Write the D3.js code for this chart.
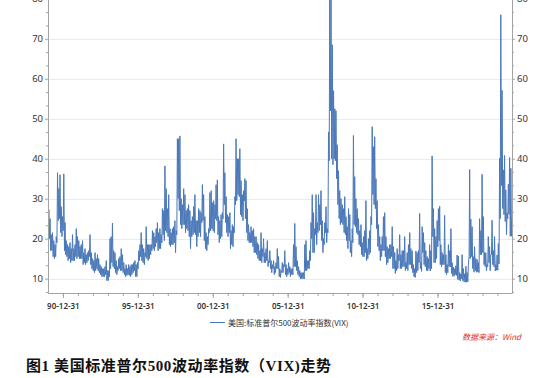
<!DOCTYPE html>
<html>
<head>
<meta charset="utf-8">
<script src="https://cdn.jsdelivr.net/npm/d3@7"></script>
<style>
  body { margin: 0; background: #fff; }
  svg { display: block; }
</style>
</head>
<body>
<div id="chart"></div>
<script>
// VIX, monthly low / high, Jan 1990 .. Dec 2020
const startYear = 1990;

const vixLow = [
  19.2,20.0,17.0,17.0,15.5,15.0,15.5,19.0,24.5,25.0,21.5,20.5, // 1990
  22.0,17.0,16.0,15.5,14.5,15.0,14.0,14.5,14.5,14.5,15.5,15.0, // 1991
  15.5,15.0,15.0,15.0,13.5,14.0,13.5,14.0,14.5,15.5,13.5,12.5, // 1992
  12.0,11.5,12.0,12.5,12.0,11.5,11.0,10.5,10.5,10.5,11.0,9.5,  // 1993
  9.5,10.5,12.5,14.0,13.0,12.5,11.5,11.0,12.0,12.5,12.0,12.0,  // 1994
  11.5,11.0,10.5,10.8,11.0,10.8,10.5,11.0,11.5,12.0,10.5,10.5, // 1995
  12.5,14.5,15.5,14.5,14.0,13.5,15.5,15.0,14.5,15.0,16.0,17.0, // 1996
  17.5,17.0,18.0,19.0,17.0,17.5,17.5,19.0,21.0,19.5,22.0,21.5, // 1997
  20.5,18.5,18.0,18.5,18.5,19.0,16.5,21.0,30.0,27.0,23.5,22.5, // 1998
  23.5,23.5,21.5,22.5,22.0,20.5,17.5,20.5,21.0,21.5,21.0,18.0, // 1999
  20.5,21.5,20.5,24.0,24.5,19.5,17.5,17.0,18.5,21.5,22.0,22.5, // 2000
  22.0,21.5,25.0,24.5,21.0,19.0,20.0,20.5,25.0,28.5,24.0,21.5, // 2001
  20.5,21.5,17.5,18.5,18.0,21.5,28.5,29.5,31.0,30.5,26.0,25.5, // 2002
  24.5,29.5,25.0,21.5,19.5,19.0,19.0,19.0,18.0,16.5,16.5,16.0, // 2003
  15.0,14.5,14.5,14.0,15.5,14.0,14.0,14.5,13.0,14.0,12.5,11.5, // 2004
  12.5,11.0,11.5,12.5,12.5,10.5,10.3,11.5,11.5,13.0,11.0,10.5, // 2005
  11.0,11.5,10.5,11.0,11.0,13.0,13.0,12.0,11.0,10.5,9.9,10.0,  // 2006
  10.0,9.9,12.0,12.0,12.5,12.5,14.5,20.0,16.5,16.5,21.0,18.5,  // 2007
  21.5,22.0,23.5,19.5,16.5,18.5,21.5,19.0,21.5,39.5,52.0,40.0, // 2008
  38.5,40.0,39.5,35.0,28.5,25.0,23.5,24.0,23.5,21.5,21.0,19.5, // 2009
  17.5,19.5,16.5,15.5,19.0,23.5,23.0,21.5,21.0,18.5,18.0,16.0, // 2010
  15.5,15.5,16.5,14.5,15.0,16.0,16.5,23.5,31.0,28.5,27.5,22.5, // 2011
  18.0,17.0,14.5,15.5,17.0,17.0,15.5,13.5,14.0,15.0,15.0,15.5, // 2012
  12.5,12.5,11.3,12.0,12.5,14.5,12.5,12.5,13.0,13.0,12.0,12.5, // 2013
  12.0,13.5,13.5,12.5,11.5,10.5,10.3,11.5,12.0,14.0,12.5,11.8, // 2014
  16.5,13.5,13.0,12.0,12.0,12.5,11.9,12.5,20.5,14.0,14.0,15.0, // 2015
  18.0,19.5,13.5,13.0,13.5,13.5,11.5,11.0,11.5,13.0,12.9,11.3, // 2016
  10.6,10.6,11.0,10.8,9.8,9.7,9.4,10.0,9.5,9.2,9.1,9.1,        // 2017
  9.2,15.5,15.0,15.5,12.5,11.6,12.0,11.6,11.7,11.5,16.0,16.0,  // 2018
  16.5,13.5,13.0,12.0,13.0,14.0,12.0,16.0,13.5,13.0,11.9,12.1, // 2019
  12.1,13.7,25.0,33.3,27.5,26.0,24.3,21.0,25.0,26.1,20.6,20.6  // 2020
];

const vixHigh = [
  27.3,25.0,21.0,21.5,19.5,18.5,20.5,36.5,32.5,36.0,28.0,25.5, // 1990
  36.2,24.0,19.5,18.5,18.0,19.0,17.5,21.0,17.5,18.5,22.5,20.5, // 1991
  19.5,18.0,18.5,19.5,16.5,17.5,16.0,16.5,17.0,21.0,16.5,15.0, // 1992
  14.5,16.5,15.0,16.0,15.0,13.5,13.0,12.5,12.5,13.0,14.5,12.0, // 1993
  12.0,20.0,20.5,23.9,17.0,16.5,14.5,13.0,15.0,15.5,17.5,16.0, // 1994
  14.0,12.5,13.5,12.5,13.5,13.0,13.5,13.5,14.0,14.5,13.5,14.0, // 1995
  17.0,18.5,21.5,18.5,17.5,16.5,23.0,18.5,18.5,18.5,18.5,22.0, // 1996
  21.5,20.5,22.5,24.0,21.5,22.5,21.0,27.5,27.0,38.2,32.5,27.5, // 1997
  31.0,22.5,21.5,22.5,23.0,24.5,22.0,45.0,45.0,45.7,30.0,28.5, // 1998
  32.5,31.0,27.0,27.5,28.5,27.0,24.5,25.5,28.0,31.0,24.5,24.5, // 1999
  27.5,27.0,26.5,33.5,31.0,25.5,21.5,20.5,22.5,31.5,32.0,29.0, // 2000
  29.5,28.5,33.5,34.7,25.5,24.5,26.0,26.5,43.7,36.5,30.5,26.0, // 2001
  25.5,26.5,22.0,23.5,23.0,30.5,45.0,40.0,40.0,42.5,34.5,31.0, // 2002
  32.0,35.0,34.5,27.5,23.5,21.5,23.0,22.0,22.5,20.5,20.5,19.0, // 2003
  18.5,17.0,21.5,17.5,20.0,16.5,17.5,19.5,14.5,17.0,14.5,13.5, // 2004
  14.5,13.0,14.0,17.5,15.5,12.5,12.0,14.0,13.5,17.0,13.5,12.5, // 2005
  14.0,13.0,12.5,12.5,18.5,23.8,18.0,14.5,13.0,12.0,11.5,11.5, // 2006
  11.5,18.5,19.5,14.5,14.5,17.0,24.0,31.0,26.5,22.5,31.0,24.0, // 2007
  31.0,28.5,32.0,24.5,20.0,24.0,28.0,22.5,46.7,80.0,80.9,68.5, // 2008
  57.0,52.5,52.0,43.5,37.0,32.0,30.0,28.5,27.5,30.5,25.5,23.0, // 2009
  27.5,26.0,19.5,22.5,45.8,35.5,30.0,27.5,25.0,22.0,23.5,19.0, // 2010
  20.5,22.0,29.5,17.5,20.0,22.0,25.5,48.0,43.0,45.5,35.0,29.5, // 2011
  23.5,20.5,18.5,20.5,25.5,26.5,20.5,18.0,17.5,18.5,18.5,23.0, // 2012
  18.0,16.5,14.5,17.5,16.0,21.0,16.0,17.0,17.0,20.5,14.0,16.5, // 2013
  18.5,21.5,17.5,17.0,13.5,12.5,16.9,16.5,17.0,26.3,14.0,23.0, // 2014
  21.5,19.0,17.0,15.5,15.0,18.5,17.0,40.7,27.5,22.5,20.5,24.5, // 2015
  27.5,28.1,18.5,16.5,16.0,25.8,16.0,13.5,18.5,17.0,22.5,14.0, // 2016
  12.9,12.5,13.2,15.9,15.6,11.5,11.2,16.0,12.5,11.2,13.1,11.5, // 2017
  13.5,37.3,24.9,23.0,15.5,18.0,15.0,14.8,14.0,25.0,22.0,36.1, // 2018
  25.5,16.5,16.5,13.5,20.5,18.0,16.0,24.6,17.0,20.5,13.5,15.9, // 2019
  18.8,40.1,76.0,57.1,37.2,40.8,32.2,26.4,33.6,40.3,37.6,25.3  // 2020
];

const xTickYears = [1990, 1995, 2000, 2005, 2010, 2015];
const yTicks = [10, 20, 30, 40, 50, 60, 70, 80];
const seriesName = '美国:标准普尔500波动率指数(VIX)';
const sourceText = '数据来源：Wind';
const titleText = '图1 美国标准普尔500波动率指数（VIX)走势';

const W = 550, H = 378;
const plotLeft = 48, plotRight = 512, plotTop = -8, plotBottom = 293;
const lineColor = '#4a78b9';
const axisColor = '#a3a3a3';

const svg = d3.select('#chart').append('svg')
  .attr('width', W)
  .attr('height', H);

const x = d3.scaleTime()
  .domain([new Date(1990, 0, 2), new Date(2020, 11, 20)])
  .range([plotLeft, plotRight]);

const y = d3.scaleLinear()
  .domain([6.4, 81.7])
  .range([plotBottom, plotTop]);

// points: low then high inside each month
const points = [];
vixLow.forEach((lo, i) => {
  const yr = startYear + Math.floor(i / 12), m = i % 12;
  points.push([new Date(yr, m, 8), lo]);
  points.push([new Date(yr, m, 22), vixHigh[i]]);
});

// gridlines
svg.append('g')
  .selectAll('line')
  .data(yTicks)
  .join('line')
  .attr('x1', plotLeft).attr('x2', plotRight)
  .attr('y1', d => Math.round(y(d)) + 0.5)
  .attr('y2', d => Math.round(y(d)) + 0.5)
  .attr('stroke', '#ebebeb');

// the series
svg.append('clipPath').attr('id', 'plot')
  .append('rect')
  .attr('x', plotLeft).attr('y', plotTop)
  .attr('width', plotRight - plotLeft).attr('height', plotBottom - plotTop);

const line = d3.line()
  .x(d => x(d[0]))
  .y(d => y(d[1]));

svg.append('path')
  .datum(points)
  .attr('clip-path', 'url(#plot)')
  .attr('d', line)
  .attr('fill', 'none')
  .attr('stroke', lineColor)
  .attr('stroke-width', 1)
  .attr('stroke-linejoin', 'round');

// axes
function styleAxis(g) {
  g.select('.domain').attr('stroke', axisColor);
  g.selectAll('.tick line').attr('stroke', axisColor);
  g.selectAll('.tick text').attr('fill', '#333');
}

const [yMin, yMax] = y.domain();
const minorY = d3.range(10 / 3, 82, 10 / 3)
  .filter(v => v > yMin && v < yMax)
  .filter(v => Math.abs(v / 10 - Math.round(v / 10)) > 0.01);
const minorX = d3.range(1990, 2020).map(yr => new Date(yr, 11, 31));
const majorX = xTickYears.map(yr => new Date(yr, 11, 31));

svg.append('g')
  .attr('transform', `translate(0,${plotBottom})`)
  .call(d3.axisBottom(x).tickValues(minorX).tickFormat('').tickSize(3).tickSizeOuter(0))
  .call(styleAxis);

svg.append('g')
  .attr('transform', `translate(0,${plotBottom})`)
  .call(d3.axisBottom(x).tickValues(majorX).tickFormat(d3.timeFormat('%y-%m-%d'))
    .tickSize(5).tickPadding(5).tickSizeOuter(0))
  .call(styleAxis)
  .call(g => g.select('.domain').remove())
  .selectAll('text')
  .attr('font-family', '"Noto Sans", sans-serif')
  .attr('font-size', 8)
  .attr('font-weight', 600);

[[plotLeft, d3.axisLeft], [plotRight, d3.axisRight]].forEach(([px, axisFn]) => {
  svg.append('g')
    .attr('transform', `translate(${px},0)`)
    .call(axisFn(y).tickValues(minorY).tickFormat('').tickSize(2).tickSizeOuter(0))
    .call(styleAxis);

  svg.append('g')
    .attr('transform', `translate(${px},0)`)
    .call(axisFn(y).tickValues(yTicks).tickSize(3).tickPadding(2).tickSizeOuter(0))
    .call(styleAxis)
    .call(g => g.select('.domain').remove())
    .selectAll('text')
    .attr('font-family', '"Noto Sans", sans-serif')
    .attr('font-size', 9.5);
});

// legend
svg.append('line')
  .attr('x1', 210).attr('x2', 225)
  .attr('y1', 322.5).attr('y2', 322.5)
  .attr('stroke', lineColor)
  .attr('stroke-width', 1);

svg.append('text')
  .attr('x', 228).attr('y', 325.5)
  .attr('font-family', '"Noto Sans CJK SC", sans-serif')
  .attr('font-size', 8)
  .attr('fill', '#333')
  .text(seriesName);

svg.append('text')
  .attr('x', 462).attr('y', 339.5)
  .attr('font-family', '"Noto Sans CJK SC", sans-serif')
  .attr('font-size', 8)
  .attr('font-style', 'italic')
  .attr('fill', '#e0302a')
  .text(sourceText);

// caption
svg.append('text')
  .attr('x', 26).attr('y', 371)
  .attr('font-family', '"Liberation Serif", "Noto Sans CJK SC", serif')
  .attr('font-size', 15)
  .attr('font-weight', 700)
  .attr('letter-spacing', 0.6)
  .attr('fill', '#111')
  .text(titleText);
</script>
</body>
</html>
